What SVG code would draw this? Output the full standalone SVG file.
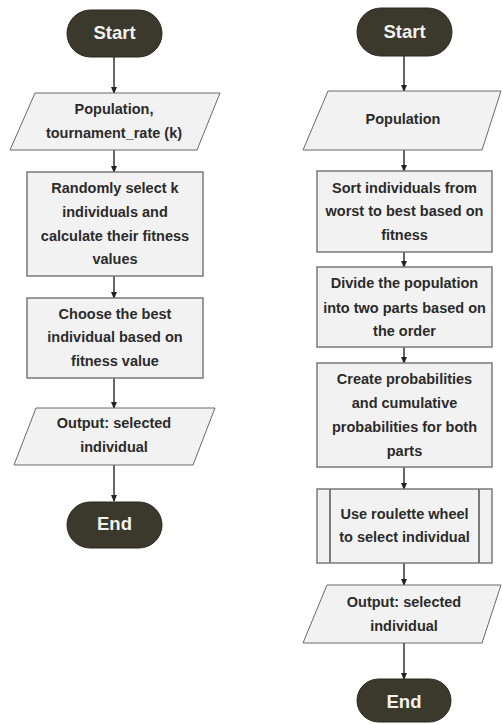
<svg xmlns="http://www.w3.org/2000/svg" width="502" height="724" viewBox="0 0 502 724">
<defs>
<style>
.term{fill:#3b382c;stroke:#2a281f;stroke-width:1}
.box{fill:#f2f2f2;stroke:#7a7a7a;stroke-width:1.5}
.io{fill:#f2f2f2;stroke:#6a6a6a;stroke-width:1}
.tt{font-family:"Liberation Sans",Arial,sans-serif;font-weight:bold;font-size:18.5px;fill:#f2f2ee;text-anchor:middle}
.t{font-family:"Liberation Sans",Arial,sans-serif;font-weight:bold;font-size:14.5px;fill:#2b2b2b;text-anchor:middle}
.c{stroke:#333;stroke-width:1.5;fill:none;marker-end:url(#ah)}
</style>
<marker id="ah" markerWidth="7" markerHeight="6" refX="6" refY="3" orient="auto" markerUnits="userSpaceOnUse">
<path d="M0,0 L7,3 L0,6 Z" fill="#222"/>
</marker>
</defs>
<rect width="502" height="724" fill="#ffffff"/>
<g id="connectors">
<line class="c" x1="114" y1="57" x2="114" y2="93"/>
<line class="c" x1="114" y1="150" x2="114" y2="172"/>
<line class="c" x1="114" y1="276" x2="114" y2="298"/>
<line class="c" x1="114" y1="378" x2="114" y2="408"/>
<line class="c" x1="114" y1="465" x2="114" y2="501"/>
<line class="c" x1="404" y1="56" x2="404" y2="91"/>
<line class="c" x1="404" y1="150" x2="404" y2="171"/>
<line class="c" x1="404" y1="252" x2="404" y2="267"/>
<line class="c" x1="404" y1="347" x2="404" y2="363"/>
<line class="c" x1="404" y1="467" x2="404" y2="489"/>
<line class="c" x1="404" y1="563" x2="404" y2="585"/>
<line class="c" x1="404" y1="643" x2="404" y2="679"/>
</g>
<g id="l-start">
<rect class="term" x="67" y="10" width="95" height="47" rx="23.5"/>
<text class="tt" x="114.5" y="39">Start</text>
</g>
<g id="l-input">
<polygon class="io" points="35,93 220,93 197,150 10,150"/>
<text class="t" x="114" y="114">Population,</text>
<text class="t" x="114" y="138">tournament_rate (k)</text>
</g>
<g id="l-select">
<rect class="box" x="27" y="172" width="176" height="104"/>
<text class="t" x="115" y="193">Randomly select k</text>
<text class="t" x="115" y="217">individuals and</text>
<text class="t" x="115" y="241">calculate their fitness</text>
<text class="t" x="115" y="264">values</text>
</g>
<g id="l-choose">
<rect class="box" x="27" y="298" width="176" height="80"/>
<text class="t" x="115" y="319">Choose the best</text>
<text class="t" x="115" y="342">individual based on</text>
<text class="t" x="115" y="366">fitness value</text>
</g>
<g id="l-output">
<polygon class="io" points="36,408 215,408 193,465 14,465"/>
<text class="t" x="114" y="428">Output: selected</text>
<text class="t" x="114" y="452">individual</text>
</g>
<g id="l-end">
<rect class="term" x="67" y="502" width="95" height="46" rx="23"/>
<text class="tt" x="114.5" y="530">End</text>
</g>
<g id="r-start">
<rect class="term" x="357" y="8" width="95" height="48" rx="24"/>
<text class="tt" x="404.5" y="38">Start</text>
</g>
<g id="r-input">
<polygon class="io" points="328,91 501,91 482,150 303,150"/>
<text class="t" x="403" y="124">Population</text>
</g>
<g id="r-sort">
<rect class="box" x="317" y="171" width="175" height="81"/>
<text class="t" x="404.5" y="193">Sort individuals from</text>
<text class="t" x="404.5" y="216">worst to best based on</text>
<text class="t" x="404.5" y="240">fitness</text>
</g>
<g id="r-divide">
<rect class="box" x="317" y="267" width="175" height="80"/>
<text class="t" x="404.5" y="288">Divide the population</text>
<text class="t" x="404.5" y="313">into two parts based on</text>
<text class="t" x="404.5" y="336">the order</text>
</g>
<g id="r-prob">
<rect class="box" x="317" y="363" width="175" height="104"/>
<text class="t" x="404.5" y="384">Create probabilities</text>
<text class="t" x="404.5" y="408">and cumulative</text>
<text class="t" x="404.5" y="432">probabilities for both</text>
<text class="t" x="404.5" y="456">parts</text>
</g>
<g id="r-roulette">
<rect class="box" x="317" y="489" width="175" height="74"/>
<line x1="330" y1="489" x2="330" y2="563" stroke="#7a7a7a" stroke-width="2"/>
<line x1="479" y1="489" x2="479" y2="563" stroke="#7a7a7a" stroke-width="2"/>
<text class="t" x="404.5" y="519">Use roulette wheel</text>
<text class="t" x="404.5" y="542">to select individual</text>
</g>
<g id="r-output">
<polygon class="io" points="327,585 501,585 482,643 303,643"/>
<text class="t" x="404" y="607">Output: selected</text>
<text class="t" x="404" y="631">individual</text>
</g>
<g id="r-end">
<rect class="term" x="357" y="679" width="94" height="43" rx="21.5"/>
<text class="tt" x="404" y="708">End</text>
</g>
</svg>
